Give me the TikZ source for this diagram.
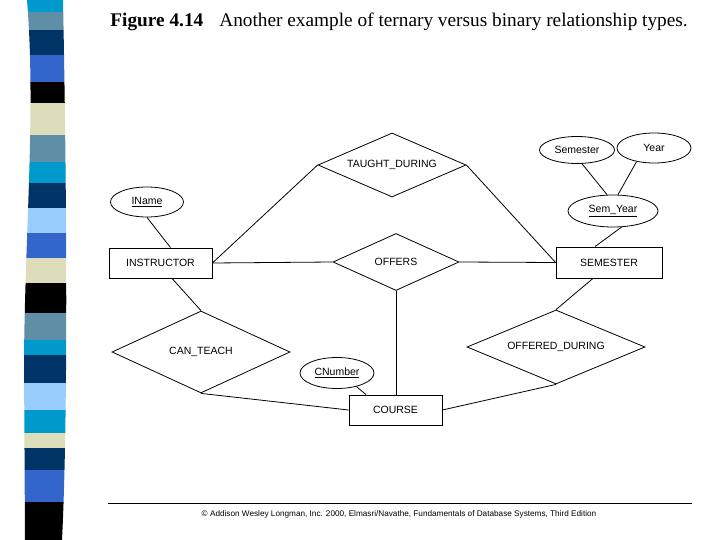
\documentclass[tikz,border=0pt]{standalone}
\usepackage{fontspec}
\setmainfont{Liberation Serif}
\newfontfamily\lblfont{Liberation Sans}
\usetikzlibrary{shapes.geometric}
\definecolor{stCyan}{HTML}{0099CC}
\definecolor{stSteel}{HTML}{5E8FA6}
\definecolor{stNavy}{HTML}{003366}
\definecolor{stRoyal}{HTML}{3366CC}
\definecolor{stBeige}{HTML}{DDDDBB}
\definecolor{stLight}{HTML}{99CCFF}
\definecolor{stBlack}{HTML}{000000}
\begin{document}
\begin{tikzpicture}[x=1bp,y=-1bp,line width=0.8bp,
  lbl/.style={font=\lblfont\fontsize{10.5bp}{12bp}\selectfont},
  ent/.style={draw, rectangle, inner sep=0pt, lbl},
  rel/.style={draw, diamond, inner sep=0pt, lbl},
  attr/.style={draw, ellipse, inner sep=0pt, lbl}]
\useasboundingbox (0,0) rectangle (720,540);
\fill[white] (0,0) rectangle (720,540);
% decorative stripe
\begin{scope}
\clip (27,0) .. controls (36,110) and (25,230) .. (24,360) -- (25,540) -- (62,540) .. controls (68,420) and (67,200) .. (63,0) -- cycle;
\foreach \ya/\yb/\cc in {0/12/stCyan,12/30/stSteel,30/55/stNavy,55/82/stRoyal,82/103/stBlack,103/135/stBeige,135/162/stSteel,162/183/stCyan,183/208/stNavy,208/233/stLight,233/258/stRoyal,258/283/stBeige,283/313/stBlack,313/340/stSteel,340/355/stCyan,355/383/stNavy,383/410/stLight,410/433/stCyan,433/448/stBeige,448/470/stNavy,470/502/stRoyal,502/540/stBlack}
  \fill[fill=\cc] (0,\ya) rectangle (80,\yb);
\end{scope}
% title
\node[anchor=base west, inner sep=0pt, font=\fontsize{19.3bp}{22bp}\selectfont] (title) at (110,27) {\textbf{Figure 4.14}\hspace{16bp}Another example of ternary versus binary relationship types.};
% credit
\draw (108,503) -- (692,503);
\node[inner sep=0pt, font=\lblfont\fontsize{8.2bp}{10bp}\selectfont] (credit) at (399,514) {© Addison Wesley Longman, Inc. 2000, Elmasri/Navathe, Fundamentals of Database Systems, Third Edition};
% entities
\node[ent, minimum width=103bp, minimum height=30bp] (instr) at (160.5,263) {INSTRUCTOR};
\node[ent, minimum width=106bp, minimum height=31bp] (sem) at (609,262.5) {SEMESTER};
\node[ent, minimum width=93bp, minimum height=30bp] (course) at (395.5,410) {COURSE};
% relationships
\node[rel, aspect=2.3, minimum width=148bp, minimum height=64bp] (taught) at (392,165) {TAUGHT\_DURING};
\node[rel, aspect=2.2, minimum width=126bp, minimum height=57bp] (offers) at (396,262) {OFFERS};
\node[rel, aspect=2.2, minimum width=178bp, minimum height=82bp] (canteach) at (201,352) {CAN\_TEACH};
\node[rel, aspect=2.4, minimum width=178bp, minimum height=74bp] (offdur) at (556,347) {OFFERED\_DURING};
% attributes
\node[attr, minimum width=73bp, minimum height=30bp] (iname) at (147,202) {\underline{IName}};
\node[attr, minimum width=75bp, minimum height=27bp] (semester) at (577,150) {Semester};
\node[attr, minimum width=74bp, minimum height=30bp] (year) at (654,148) {Year};
\node[attr, minimum width=90bp, minimum height=32bp] (semyear) at (613,211) {\underline{Sem\_Year}};
\node[attr, minimum width=74bp, minimum height=31bp] (cnumber) at (337,373) {\underline{CNumber}};
% connectors
\draw (iname.south) -- ([xshift=10bp]instr.north);
\draw (taught.west) -- (instr.east);
\draw (taught.east) -- (sem.west);
\draw (instr.east) -- (offers.west);
\draw (offers.east) -- (sem.west);
\draw (offers.south) -- (offers.south |- course.north);
\draw ([xshift=11.5bp]instr.south) -- (canteach.north);
\draw (canteach.south) -- (course.west);
\draw ([xshift=-16bp]sem.south) -- (offdur.north);
\draw (offdur.south) -- (course.east);
\draw (cnumber.325) -- ([xshift=-29.5bp]course.north);
\draw (semyear.298) -- ([xshift=-14bp]sem.north);
\draw (semester.290) -- ([xshift=-6bp]semyear.north);
\draw (year.218) -- ([xshift=5bp]semyear.north);
\end{tikzpicture}
\end{document}
